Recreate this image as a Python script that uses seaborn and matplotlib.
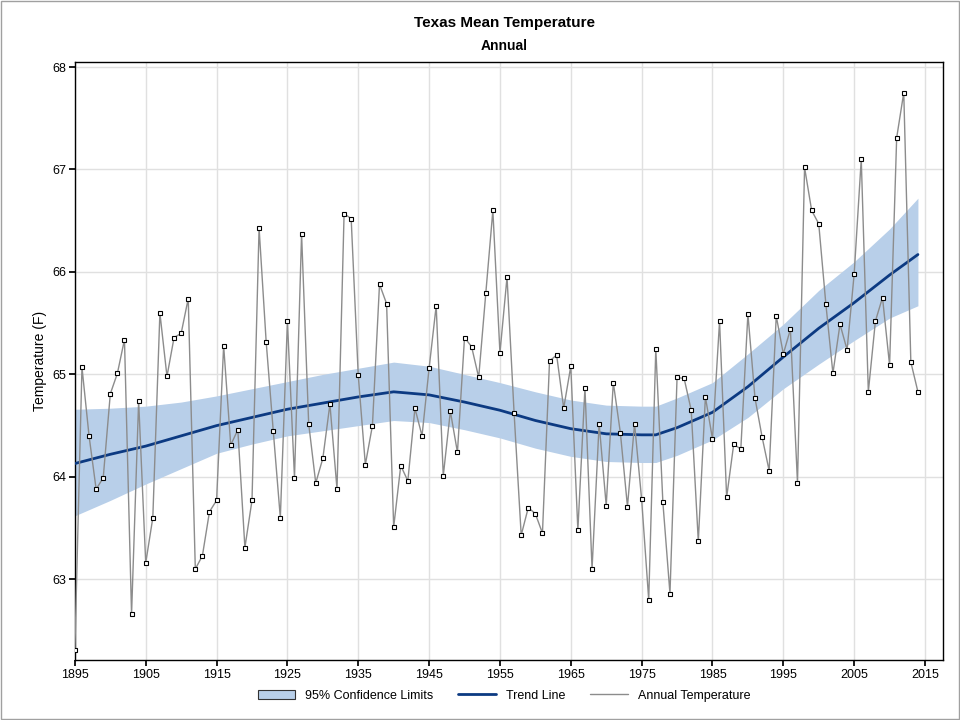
import numpy as np
import pandas as pd
import seaborn as sns
import matplotlib
matplotlib.use("Agg")
import matplotlib.pyplot as plt
from matplotlib.patches import Patch, Rectangle
from matplotlib.lines import Line2D

years = list(range(1895, 2015))
temps = [62.31, 65.07, 64.40, 63.88, 63.99, 64.81, 65.01, 65.34, 62.66, 64.74,
         63.16, 63.60, 65.60, 64.98, 65.36, 65.40, 65.74, 63.10, 63.23, 63.66,
         63.77, 65.28, 64.31, 64.46, 63.31, 63.77, 66.43, 65.32, 64.45, 63.60,
         65.52, 63.99, 66.37, 64.52, 63.94, 64.18, 64.71, 63.88, 66.57, 66.52,
         64.99, 64.12, 64.50, 65.88, 65.69, 63.51, 64.11, 63.96, 64.67, 64.40,
         65.06, 65.67, 64.01, 64.64, 64.24, 65.36, 65.27, 64.97, 65.79, 66.60,
         65.21, 65.95, 64.62, 63.43, 63.70, 63.64, 63.45, 65.13, 65.19, 64.67,
         65.08, 63.48, 64.87, 63.10, 64.52, 63.72, 64.92, 64.43, 63.71, 64.52,
         63.78, 62.80, 65.25, 63.75, 62.86, 64.97, 64.96, 64.65, 63.37, 64.78,
         64.37, 65.52, 63.80, 64.32, 64.27, 65.59, 64.77, 64.39, 64.06, 65.57,
         65.20, 65.44, 63.94, 67.02, 66.60, 66.47, 65.69, 65.01, 65.49, 65.24,
         65.98, 67.10, 64.83, 65.52, 65.75, 65.09, 67.31, 67.75, 65.12, 64.83]

trend_years = [1895, 1900, 1905, 1910, 1915, 1920, 1925, 1930, 1935, 1940, 1945,
               1950, 1955, 1960, 1965, 1970, 1975, 1977, 1980, 1985, 1990, 1995,
               2000, 2005, 2010, 2014]
trend = [64.13, 64.22, 64.30, 64.40, 64.50, 64.58, 64.66, 64.72, 64.78, 64.83, 64.80,
         64.73, 64.65, 64.55, 64.47, 64.42, 64.41, 64.41, 64.48, 64.63, 64.88, 65.17,
         65.45, 65.70, 65.97, 66.17]
upper = [64.66, 64.67, 64.69, 64.73, 64.79, 64.86, 64.93, 65.00, 65.06, 65.12, 65.08,
         65.00, 64.92, 64.83, 64.75, 64.70, 64.69, 64.69, 64.77, 64.92, 65.20, 65.49,
         65.82, 66.10, 66.42, 66.72]
lower = [63.62, 63.77, 63.93, 64.08, 64.23, 64.32, 64.40, 64.45, 64.50, 64.55, 64.53,
         64.46, 64.38, 64.28, 64.20, 64.15, 64.14, 64.14, 64.21, 64.36, 64.58, 64.86,
         65.10, 65.33, 65.55, 65.67]

sns.set_theme(style="white")
plt.rcParams['font.family'] = ['Liberation Sans', 'DejaVu Sans']
plt.rcParams['text.color'] = 'black'
plt.rcParams['axes.labelcolor'] = 'black'
plt.rcParams['xtick.color'] = 'black'
plt.rcParams['ytick.color'] = 'black'

fig = plt.figure(figsize=(9.6, 7.2), dpi=100)
ax = fig.add_axes([0.078, 0.083, 0.904, 0.831])

ax.fill_between(trend_years, lower, upper, color="#b8cfe9", linewidth=0, zorder=1)
df = pd.DataFrame({"Year": years, "Temp": temps})
tdf = pd.DataFrame({"Year": trend_years, "Trend": trend})
sns.lineplot(data=tdf, x="Year", y="Trend", ax=ax, color="#0c3a82", linewidth=2, zorder=3)
sns.lineplot(data=df, x="Year", y="Temp", ax=ax, color="#8c8c8c", linewidth=1, zorder=4,
             marker="s", markersize=2.5, markerfacecolor="white", markeredgecolor="black",
             markeredgewidth=0.8)

ax.set_xlim(1895, 2017.5)
ax.set_ylim(62.21, 68.05)
ax.set_xticks(range(1895, 2016, 10))
ax.set_yticks(range(63, 69))
ax.grid(True, color="#e0e0e0", linewidth=1)
ax.set_axisbelow(True)
for s in ax.spines.values():
    s.set_color("black")
    s.set_linewidth(1)
ax.tick_params(axis="both", labelsize=9, length=4, color="black", direction="out",
               bottom=True, left=True, pad=2)
ax.set_xlabel("")
ax.set_ylabel("Temperature (F)", fontsize=10)

fig.text(0.525, 0.962, "Texas Mean Temperature", ha="center", fontsize=11, fontweight="bold")
fig.text(0.525, 0.93, "Annual", ha="center", fontsize=10, fontweight="bold")

handles = [Patch(facecolor="#b8cfe9", edgecolor="#333333", linewidth=0.8),
           Line2D([], [], color="#0c3a82", linewidth=2),
           Line2D([], [], color="#8c8c8c", linewidth=1)]
fig.legend(handles, ["95% Confidence Limits", "Trend Line", "Annual Temperature"],
           loc="center", bbox_to_anchor=(0.525, 0.034), ncol=3, frameon=False,
           fontsize=9, handlelength=3, columnspacing=2)

fig.patches.append(Rectangle((0.001, 0.001), 0.998, 0.998, transform=fig.transFigure,
                             fill=False, edgecolor="#a0a0a0", linewidth=1))
fig.savefig("out.png", dpi=100)
